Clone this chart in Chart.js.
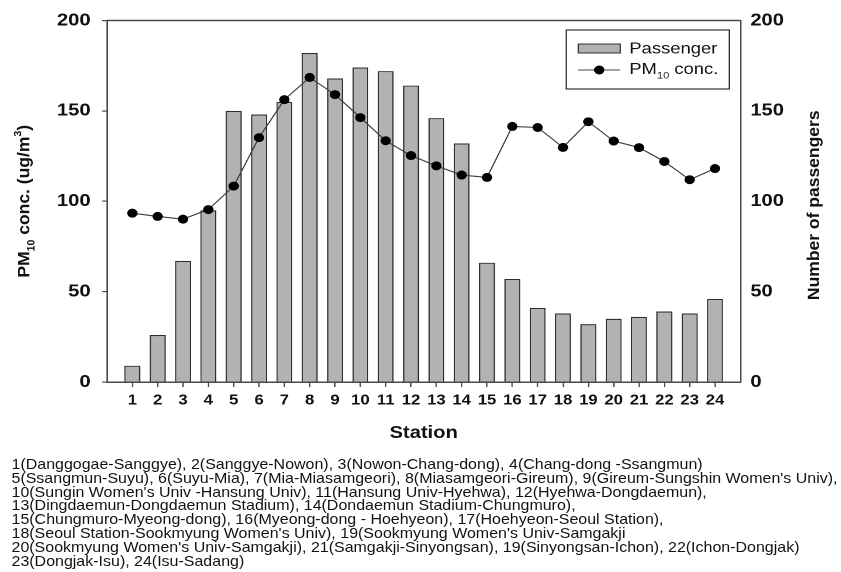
<!DOCTYPE html>
<html>
<head>
<meta charset="utf-8">
<script src="https://cdn.jsdelivr.net/npm/chart.js@4.4.1/dist/chart.umd.min.js"></script>
<style>
  html, body { margin: 0; padding: 0; background: #fff; overflow: hidden; }
  /* the whole figure is laid out on a 731px-wide sheet and widened to fill the window */
  #sheet { position: absolute; left: 0; top: 0; width: 731px; height: 572px;
           transform: scaleX(1.1505); transform-origin: 0 0; }
  #plot { position: absolute; left: 0; top: 0; }
  #notes { position: absolute; left: 10px; top: 458px; white-space: nowrap;
           font: 13.9px "Liberation Sans", Arial, sans-serif; line-height: 13.8px; color: #111; }
</style>
</head>
<body>
<div id="sheet">
  <canvas id="plot" width="731" height="445"></canvas>
  <div id="notes"></div>
</div>
<script>
// ---- data -------------------------------------------------------------
const stations   = [1, 2, 3, 4, 5, 6, 7, 8, 9, 10, 11, 12, 13, 14, 15, 16, 17, 18, 19, 20, 21, 22, 23, 24];
const passengers = [9, 26, 67, 95, 150, 148, 155, 182, 168, 174, 172, 164, 146, 132, 66, 57, 41, 38, 32, 35, 36, 39, 38, 46];
const pm10       = [93.4, 91.6, 90.1, 95.4, 108.4, 135.2, 156.2, 168.5, 159, 146.3, 133.5, 125.3,
                    119.6, 114.5, 113.2, 141.4, 140.8, 129.8, 144, 133.3, 129.7, 122, 111.9, 118.1];
const leftTicks  = [0, 50, 100, 150, 200];
const rightTicks = [0, 50, 100, 150, 200];
const stationNotes = [
  "1(Danggogae-Sanggye), 2(Sanggye-Nowon), 3(Nowon-Chang-dong), 4(Chang-dong -Ssangmun)",
  "5(Ssangmun-Suyu), 6(Suyu-Mia), 7(Mia-Miasamgeori), 8(Miasamgeori-Gireum), 9(Gireum-Sungshin Women's Univ),",
  "10(Sungin Women's Univ -Hansung Univ), 11(Hansung Univ-Hyehwa), 12(Hyehwa-Dongdaemun),",
  "13(Dingdaemun-Dongdaemun Stadium), 14(Dondaemun Stadium-Chungmuro),",
  "15(Chungmuro-Myeong-dong), 16(Myeong-dong - Hoehyeon), 17(Hoehyeon-Seoul Station),",
  "18(Seoul Station-Sookmyung Women's Univ), 19(Sookmyung Women's Univ-Samgakji",
  "20(Sookmyung Women's Univ-Samgakji), 21(Samgakji-Sinyongsan), 19(Sinyongsan-Ichon), 22(Ichon-Dongjak)",
  "23(Dongjak-Isu), 24(Isu-Sadang)"
];

// ---- styling ----------------------------------------------------------
const STRETCH = 1.1505;               // horizontal widening of the sheet
const FONT = '"Liberation Sans", Arial, sans-serif';
const AXIS = '#4a4a4a';
const BAR_FILL = '#b2b2b2';
const BAR_EDGE = '#2e2e2e';

document.getElementById('notes').innerHTML =
  stationNotes.map(s => s.replace(/&/g, '&amp;').replace(/</g, '&lt;')).join('<br>');

// draws a run of text pieces (with sub/superscripts) centred on (0,0)
function richText(ctx, pieces, size, weight) {
  const fontOf = p => `${weight} ${size * (p.scale || 1)}px ${FONT}`;
  let total = 0;
  const widths = pieces.map(p => { ctx.font = fontOf(p); const w = ctx.measureText(p.text).width; total += w; return w; });
  let x = -total / 2;
  const base = size * 0.36;
  ctx.textBaseline = 'alphabetic';
  ctx.textAlign = 'left';
  pieces.forEach((p, i) => {
    ctx.font = fontOf(p);
    ctx.fillText(p.text, x, base + (p.shift || 0) * size);
    x += widths[i];
  });
}

const decorations = {
  id: 'decorations',
  afterDraw(chart) {
    const ctx = chart.ctx;
    const a = chart.chartArea;
    ctx.save();

    // frame line along the top of the plot
    ctx.strokeStyle = AXIS;
    ctx.lineWidth = 1.5;
    ctx.beginPath();
    ctx.moveTo(a.left, a.top);
    ctx.lineTo(a.right, a.top);
    ctx.stroke();

    ctx.fillStyle = '#111';

    // x axis title
    ctx.font = `bold 17.5px ${FONT}`;
    ctx.textAlign = 'center';
    ctx.textBaseline = 'middle';
    ctx.fillText('Station', (a.left + a.right) / 2, 433);

    // left axis title, rotated
    ctx.save();
    ctx.translate(20, (a.top + a.bottom) / 2);
    ctx.rotate(-Math.PI / 2);
    ctx.scale(1, 1 / STRETCH);
    richText(ctx, [
      { text: 'PM' },
      { text: '10', scale: 0.6, shift: 0.3 },
      { text: ' conc. (ug/m' },
      { text: '3', scale: 0.6, shift: -0.45 },
      { text: ')' }
    ], 17.5, 'bold');
    ctx.restore();

    // right axis title, rotated
    ctx.save();
    ctx.translate(706.5, (a.top + a.bottom) / 2 + 4);
    ctx.rotate(-Math.PI / 2);
    ctx.scale(1, 1 / STRETCH);
    richText(ctx, [{ text: 'Number of passengers' }], 17.5, 'bold');
    ctx.restore();

    // legend box
    const bx = 492.2, by = 30, bw = 141.7, bh = 59;
    ctx.strokeStyle = '#333';
    ctx.lineWidth = 1.2;
    ctx.strokeRect(bx, by, bw, bh);

    const sx0 = 502.6, sx1 = 539.1;
    ctx.fillStyle = BAR_FILL;
    ctx.fillRect(sx0, 44, sx1 - sx0, 9);
    ctx.strokeStyle = BAR_EDGE;
    ctx.lineWidth = 1;
    ctx.strokeRect(sx0, 44, sx1 - sx0, 9);

    ctx.strokeStyle = '#444';
    ctx.beginPath();
    ctx.moveTo(sx0, 70);
    ctx.lineTo(sx1, 70);
    ctx.stroke();
    ctx.fillStyle = '#000';
    ctx.beginPath();
    ctx.arc((sx0 + sx1) / 2, 70, 4.5, 0, Math.PI * 2);
    ctx.fill();

    ctx.fillStyle = '#111';
    ctx.font = `16px ${FONT}`;
    ctx.textAlign = 'left';
    ctx.textBaseline = 'middle';
    ctx.fillText(chart.data.datasets[0].label, 547, 49);

    ctx.save();
    ctx.translate(547, 68);
    const pieces = [{ text: 'PM' }, { text: '10', scale: 0.6, shift: 0.3 }, { text: ' conc.' }];
    let w = 0;
    pieces.forEach(p => { ctx.font = `${16 * (p.scale || 1)}px ${FONT}`; w += ctx.measureText(p.text).width; });
    ctx.translate(w / 2, 0);
    richText(ctx, pieces, 16, 'normal');
    ctx.restore();

    ctx.restore();
  }
};

new Chart(document.getElementById('plot'), {
  type: 'bar',
  data: {
    datasets: [
      {
        label: 'Passenger',
        type: 'bar',
        data: stations.map((s, i) => ({ x: s, y: passengers[i] })),
        yAxisID: 'y2',
        backgroundColor: BAR_FILL,
        borderColor: BAR_EDGE,
        borderWidth: 1.2,
        barPercentage: 0.63,
        categoryPercentage: 1.0,
        order: 2
      },
      {
        label: 'PM10 conc.',
        type: 'line',
        data: stations.map((s, i) => ({ x: s, y: pm10[i] })),
        yAxisID: 'y',
        borderColor: '#3c3c3c',
        borderWidth: 1.1,
        pointRadius: 4.5,
        pointBackgroundColor: '#000',
        pointBorderWidth: 0,
        tension: 0,
        order: 1
      }
    ]
  },
  options: {
    responsive: false,
    animation: false,
    devicePixelRatio: 2,
    layout: { padding: { top: 18, left: 0, right: 0, bottom: 0 } },
    plugins: { legend: { display: false }, tooltip: { enabled: false } },
    scales: {
      x: {
        type: 'linear',
        min: 0,
        max: 25,
        offset: false,
        afterBuildTicks: s => { s.ticks = [0].concat(stations, [25]).map(v => ({ value: v })); },
        afterFit: s => { s.height = 63; },
        ticks: {
          autoSkip: false,
          maxRotation: 0,
          padding: 5,
          color: '#111',
          font: { family: FONT, size: 14.5, weight: 'bold' },
          callback: v => (v >= 1 && v <= 24 ? String(v) : '')
        },
        grid: {
          offset: false,
          drawOnChartArea: false,
          drawTicks: true,
          tickLength: 5,
          lineWidth: 1.2,
          color: c => (c.tick && (c.tick.value === 0 || c.tick.value === 25) ? 'rgba(0,0,0,0)' : AXIS)
        },
        border: { display: true, color: AXIS, width: 1.5 }
      },
      y: {
        position: 'left',
        min: 0,
        max: 200,
        afterBuildTicks: s => { s.ticks = leftTicks.map(v => ({ value: v })); },
        afterFit: s => { s.width = 93; },
        ticks: {
          padding: 10,
          color: '#111',
          font: { family: FONT, size: 17.5, weight: 'bold' }
        },
        grid: { drawOnChartArea: false, drawTicks: true, tickLength: 4.3, lineWidth: 1.2, color: AXIS },
        border: { display: true, color: AXIS, width: 1.5 }
      },
      y2: {
        position: 'right',
        min: 0,
        max: 200,
        afterBuildTicks: s => { s.ticks = rightTicks.map(v => ({ value: v })); },
        afterFit: s => { s.width = 731 - 643.5; },
        ticks: {
          padding: 8.7,
          color: '#111',
          font: { family: FONT, size: 17.5, weight: 'bold' }
        },
        grid: { drawOnChartArea: false, drawTicks: false },
        border: { display: true, color: AXIS, width: 1.5 }
      }
    }
  },
  plugins: [decorations]
});
</script>
</body>
</html>
